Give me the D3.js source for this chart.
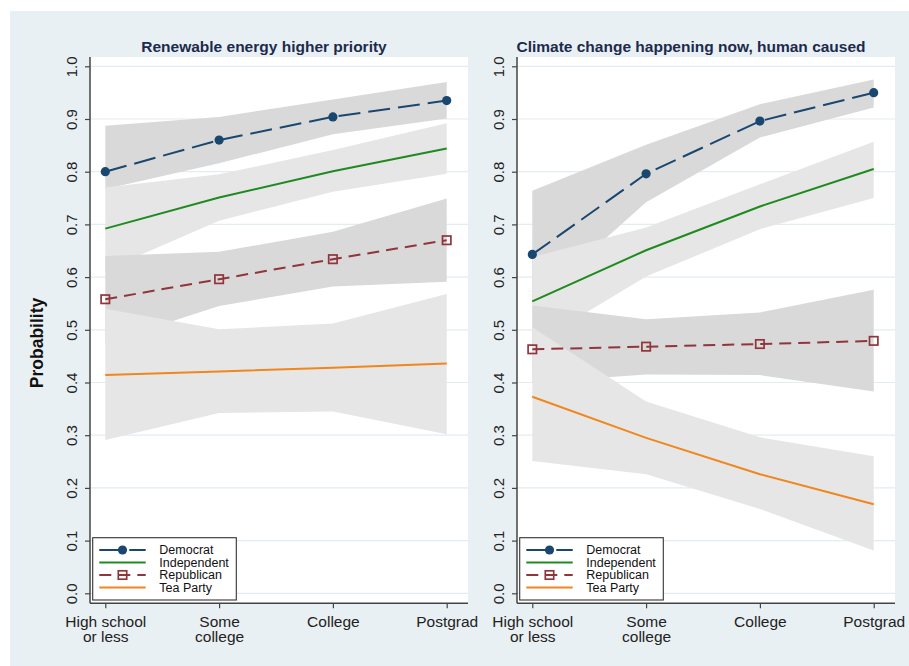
<!DOCTYPE html>
<html>
<head>
<meta charset="utf-8">
<script src="https://cdn.jsdelivr.net/npm/d3@7"></script>
<style>
  html, body { margin: 0; padding: 0; background: #ffffff; }
  svg { display: block; font-family: "Liberation Sans", Arial, Helvetica, sans-serif; }
</style>
</head>
<body>
<svg id="chart" width="909" height="666"></svg>
<script>
// ---- data -------------------------------------------------------------
const categories = ["High school or less", "Some college", "College", "Postgrad"];
const categoryLines = [["High school", "or less"], ["Some", "college"], ["College"], ["Postgrad"]];
const yTicks = [0, 0.1, 0.2, 0.3, 0.4, 0.5, 0.6, 0.7, 0.8, 0.9, 1.0];
const seriesNames = ["Democrat", "Independent", "Republican", "Tea Party"];
const panelTitles = ["Renewable energy higher priority", "Climate change happening now, human caused"];
const yTitle = "Probability";

// Renewable energy higher priority: predicted probability and 95% CI
const renewDemocrat      = [0.800, 0.860, 0.904, 0.935];
const renewDemocratLo    = [0.767, 0.816, 0.871, 0.901];
const renewDemocratHi    = [0.887, 0.904, 0.937, 0.970];
const renewIndependent   = [0.692, 0.751, 0.801, 0.844];
const renewIndependentLo = [0.613, 0.707, 0.762, 0.796];
const renewIndependentHi = [0.770, 0.795, 0.841, 0.892];
const renewRepublican    = [0.558, 0.596, 0.634, 0.670];
const renewRepublicanLo  = [0.475, 0.545, 0.582, 0.591];
const renewRepublicanHi  = [0.640, 0.648, 0.686, 0.749];
const renewTeaParty      = [0.414, 0.421, 0.428, 0.436];
const renewTeaPartyLo    = [0.291, 0.342, 0.345, 0.302];
const renewTeaPartyHi    = [0.540, 0.501, 0.512, 0.568];

// Climate change happening now, human caused
const climateDemocrat      = [0.643, 0.796, 0.896, 0.950];
const climateDemocratLo    = [0.549, 0.742, 0.865, 0.922];
const climateDemocratHi    = [0.764, 0.851, 0.928, 0.975];
const climateIndependent   = [0.554, 0.651, 0.734, 0.805];
const climateIndependentLo = [0.471, 0.601, 0.691, 0.750];
const climateIndependentHi = [0.638, 0.694, 0.776, 0.857];
const climateRepublican    = [0.463, 0.468, 0.473, 0.479];
const climateRepublicanLo  = [0.400, 0.415, 0.414, 0.383];
const climateRepublicanHi  = [0.546, 0.520, 0.533, 0.576];
const climateTeaParty      = [0.373, 0.295, 0.226, 0.169];
const climateTeaPartyLo    = [0.251, 0.226, 0.160, 0.081];
const climateTeaPartyHi    = [0.505, 0.364, 0.296, 0.260];

// ---- styles -----------------------------------------------------------
const seriesStyle = {
  "Democrat":    { color: "#1a476f", dash: "22,8", marker: "circle", band: "#d9d9d9" },
  "Independent": { color: "#1f8a1f", dash: null,   marker: null,     band: "#e6e6e6" },
  "Republican":  { color: "#90353b", dash: "12,7", marker: "square", band: "#d9d9d9" },
  "Tea Party":   { color: "#f0861c", dash: null,   marker: null,     band: "#e6e6e6" }
};

const panels = [
  {
    title: panelTitles[0], left: 90, right: 468, titleX: 264,
    series: [
      { name: seriesNames[0], v: renewDemocrat,    lo: renewDemocratLo,    hi: renewDemocratHi },
      { name: seriesNames[1], v: renewIndependent, lo: renewIndependentLo, hi: renewIndependentHi },
      { name: seriesNames[2], v: renewRepublican,  lo: renewRepublicanLo,  hi: renewRepublicanHi },
      { name: seriesNames[3], v: renewTeaParty,    lo: renewTeaPartyLo,    hi: renewTeaPartyHi }
    ]
  },
  {
    title: panelTitles[1], left: 517, right: 895, titleX: 691,
    series: [
      { name: seriesNames[0], v: climateDemocrat,    lo: climateDemocratLo,    hi: climateDemocratHi },
      { name: seriesNames[1], v: climateIndependent, lo: climateIndependentLo, hi: climateIndependentHi },
      { name: seriesNames[2], v: climateRepublican,  lo: climateRepublicanLo,  hi: climateRepublicanHi },
      { name: seriesNames[3], v: climateTeaParty,    lo: climateTeaPartyLo,    hi: climateTeaPartyHi }
    ]
  }
];

// ---- layout -----------------------------------------------------------
const svg = d3.select("#chart");
const plotTop = 57, plotBottom = 603.3;
const y = d3.scaleLinear().domain([0, 1]).range([593.3, 66.3]);

svg.append("rect").attr("width", 909).attr("height", 666).attr("fill", "#ffffff");
svg.append("rect").attr("x", 10).attr("y", 11).attr("width", 899).attr("height", 655).attr("fill", "#e9f0f3");

svg.append("text")
  .attr("transform", `translate(43,${343}) rotate(-90)`)
  .attr("text-anchor", "middle")
  .attr("font-size", 17.5).attr("font-weight", "bold").attr("fill", "#111")
  .text(yTitle);

function drawMarker(g, kind, cx, cy, color) {
  if (kind === "circle") {
    g.append("circle").attr("cx", cx).attr("cy", cy).attr("r", 4.6).attr("fill", color);
  } else if (kind === "square") {
    g.append("rect").attr("x", cx - 4.2).attr("y", cy - 4.2).attr("width", 8.4).attr("height", 8.4)
      .attr("fill", "none").attr("stroke", color).attr("stroke-width", 1.7);
  }
}

panels.forEach(p => {
  const g = svg.append("g");
  const x = d3.scalePoint().domain(categories).range([p.left + 15.3, p.right - 21.3]);

  // plot region
  g.append("rect").attr("x", p.left).attr("y", plotTop)
    .attr("width", p.right - p.left).attr("height", plotBottom - plotTop).attr("fill", "#ffffff");

  // gridlines
  g.append("g").selectAll("line").data(yTicks).join("line")
    .attr("x1", p.left).attr("x2", p.right)
    .attr("y1", d => y(d)).attr("y2", d => y(d))
    .attr("stroke", "#e3ecf1").attr("stroke-width", 1.2);

  // confidence bands, drawn in series order
  const area = d3.area()
    .x((d, i) => x(categories[i]))
    .y0(d => y(d[0]))
    .y1(d => y(d[1]));
  p.series.forEach(s => {
    g.append("path")
      .datum(s.lo.map((lo, i) => [lo, s.hi[i]]))
      .attr("d", area)
      .attr("fill", seriesStyle[s.name].band);
  });

  // prediction lines and markers
  const line = d3.line().x((d, i) => x(categories[i])).y(d => y(d));
  p.series.forEach(s => {
    const st = seriesStyle[s.name];
    g.append("path").datum(s.v).attr("d", line)
      .attr("fill", "none").attr("stroke", st.color).attr("stroke-width", 2)
      .attr("stroke-dasharray", st.dash);
    if (st.marker) {
      s.v.forEach((v, i) => drawMarker(g, st.marker, x(categories[i]), y(v), st.color));
    }
  });

  // y axis
  const yAxis = g.append("g").attr("transform", `translate(${p.left},0)`)
    .call(d3.axisLeft(y).tickValues(yTicks).tickSize(5).tickSizeOuter(0).tickFormat(d3.format(".1f")));
  yAxis.select(".domain").remove();
  yAxis.selectAll(".tick line").attr("stroke", "#444").attr("stroke-width", 1.2);
  yAxis.selectAll(".tick text")
    .attr("x", null).attr("dy", null)
    .attr("transform", "translate(-13,0) rotate(-90)")
    .attr("text-anchor", "middle")
    .attr("font-size", 15).attr("fill", "#222")
    .style("font-family", "inherit");
  g.append("line").attr("x1", p.left).attr("x2", p.left).attr("y1", plotTop).attr("y2", plotBottom)
    .attr("stroke", "#444").attr("stroke-width", 1.5);

  // x axis
  const xAxis = g.append("g").attr("transform", `translate(0,${plotBottom})`)
    .call(d3.axisBottom(x).tickSize(5).tickSizeOuter(0).tickFormat(""));
  xAxis.select(".domain").remove();
  xAxis.selectAll(".tick line").attr("stroke", "#444").attr("stroke-width", 1.2);
  xAxis.selectAll(".tick").each(function (d, i) {
    const t = d3.select(this).append("text")
      .attr("text-anchor", "middle").attr("font-size", 15.5).attr("fill", "#222")
      .style("font-family", "inherit");
    categoryLines[i].forEach((ln, j) => {
      t.append("tspan").attr("x", 0).attr("y", 24 + j * 15.2).text(ln);
    });
  });
  g.append("line").attr("x1", p.left).attr("x2", p.right).attr("y1", plotBottom).attr("y2", plotBottom)
    .attr("stroke", "#444").attr("stroke-width", 1.5);

  // panel title
  g.append("text").attr("x", p.titleX).attr("y", 51.5).attr("text-anchor", "middle")
    .attr("font-size", 15.5).attr("font-weight", "bold").attr("fill", "#1c2a4d")
    .text(p.title);

  // legend
  const lg = g.append("g").attr("transform", `translate(${p.left + 2.7},537.7)`);
  lg.append("rect").attr("width", 143.6).attr("height", 62.3)
    .attr("fill", "#ffffff").attr("stroke", "#333").attr("stroke-width", 1.1);
  seriesNames.forEach((name, i) => {
    const st = seriesStyle[name];
    const ry = 12.3 + i * 12.5;
    lg.append("line").attr("x1", 6.6).attr("x2", 53).attr("y1", ry).attr("y2", ry)
      .attr("stroke", st.color).attr("stroke-width", 2).attr("stroke-dasharray", st.dash);
    if (st.marker) drawMarker(lg, st.marker, 29.8, ry, st.color);
    lg.append("text").attr("x", 66.6).attr("y", ry).attr("dy", "0.36em")
      .attr("font-size", 12.5).attr("fill", "#111").text(name);
  });
});
</script>
</body>
</html>
